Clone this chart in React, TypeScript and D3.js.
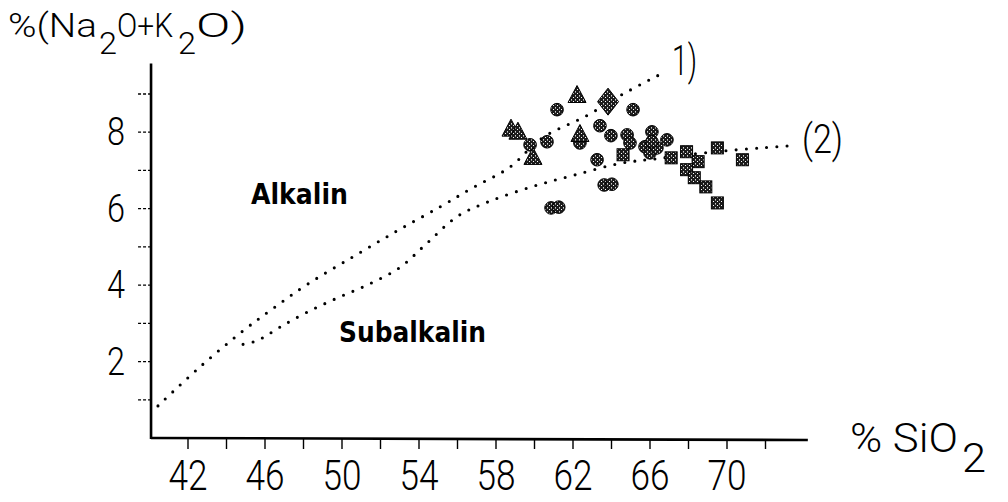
import React from "react";
import * as d3 from "d3";

// ---- data ----
const xTickValues = [42, 44, 46, 48, 50, 52, 54, 56, 58, 60, 62, 64, 66, 68, 70, 72];
const xLabelValues = [42, 46, 50, 54, 58, 62, 66, 70];
const yTickValues = [1, 2, 3, 4, 5, 6, 7, 8, 9];
const yLabelValues = [2, 4, 6, 8];

// boundary line 1 (upper)
const line1: [number, number][] = [
  [40.44, 0.84], [42.6, 1.85], [44.9, 2.82], [46.5, 3.42], [48.2, 4.02], [50.6, 4.75],
  [52.9, 5.43], [55.1, 6.05], [56.8, 6.55], [58.7, 7.08], [60.4, 7.85], [62.7, 8.43],
  [64.6, 9.0], [66.4, 9.48],
];
// boundary line 2 (lower)
const line2: [number, number][] = [
  [44.86, 2.45], [45.6, 2.55], [46.78, 2.9], [48.18, 3.29], [49.74, 3.66], [51.3, 4.0],
  [53.0, 4.46], [54.4, 5.09], [56.0, 5.8], [57.7, 6.2], [59.9, 6.58], [62.0, 6.87],
  [64.4, 7.18], [66.4, 7.31], [69.0, 7.47], [72.0, 7.6], [73.5, 7.65],
];

const triangles: [number, number][] = [
  [62.21, 9.0], [58.78, 8.12], [59.14, 8.04], [59.92, 7.38], [62.36, 7.98],
];
const diamonds: [number, number][] = [[63.82, 8.8]];
const circles: [number, number][] = [
  [61.17, 8.59], [65.12, 8.59], [59.77, 7.67], [60.65, 7.75], [62.36, 7.72],
  [63.4, 8.17], [63.97, 7.91], [64.81, 7.93], [63.25, 7.28],
  [63.62, 6.62], [64.02, 6.64], [60.86, 6.02], [61.26, 6.04],
  [66.1, 8.01], [66.88, 7.8], [64.96, 7.72], [65.74, 7.62], [66.0, 7.46],
  [66.36, 7.59], [66.1, 7.75],
];
const squares: [number, number][] = [
  [64.6, 7.41], [67.1, 7.33], [67.9, 7.49], [68.5, 7.23], [67.9, 7.02],
  [68.3, 6.81], [68.9, 6.57], [69.5, 6.15], [69.5, 7.59], [70.8, 7.28],
];

const W = 1008;
const H = 502;

export default function App() {
  const x = d3.scaleLinear().domain([42, 70]).range([188, 727]);
  const y = d3.scaleLinear().domain([0, 9]).range([438, 94]);

  const lineGen = d3
    .line<[number, number]>()
    .x((d) => x(d[0]))
    .y((d) => y(d[1]))
    .curve(d3.curveCatmullRom.alpha(0.5));

  const x0 = x(40.08);
  const x1 = x(74.2);
  const yTop = y(9.8);
  const y0 = y(0);

  const digitFont = "Roboto, 'Liberation Sans', 'DejaVu Sans', sans-serif";
  const markFill = "url(#stip)";

  const tri = (cx: number, cy: number) => {
    const w = 9, h = 8.5;
    return `M${cx},${cy - h}L${cx + w},${cy + h}L${cx - w},${cy + h}Z`;
  };
  const dia = (cx: number, cy: number) => {
    const w = 10.5, h = 13.5;
    return `M${cx},${cy - h}L${cx + w},${cy}L${cx},${cy + h}L${cx - w},${cy}Z`;
  };

  return (
    <svg
      width={W}
      height={H}
      style={{ position: "absolute", left: 0, top: 0, background: "#fff" }}
    >
      <defs>
        <pattern id="stip" patternUnits="userSpaceOnUse" width={4} height={4}>
          <rect width={4} height={4} fill="#1c1c1c" />
          <rect x={1} y={1} width={1} height={1} fill="#fff" />
          <rect x={3} y={3} width={1} height={1} fill="#ccc" />
          <rect x={3} y={0} width={1} height={1} fill="#888" />
        </pattern>
      </defs>
      <rect width={W} height={H} fill="#fff" />

      {/* axes */}
      <line x1={x0} y1={y0} x2={x1} y2={y0 + 2} stroke="#000" strokeWidth={2.6} />
      <line x1={x0} y1={yTop} x2={x0} y2={y0 + 1} stroke="#000" strokeWidth={2.6} />
      {xTickValues.map((v) => (
        <line key={"xt" + v} x1={x(v)} x2={x(v)} y1={y0 + 1} y2={y0 + 11} stroke="#000" strokeWidth={1.4} />
      ))}
      {yTickValues.map((v) => (
        <line key={"yt" + v} x1={x0 - 13} x2={x0} y1={y(v)} y2={y(v)} stroke="#000" strokeWidth={1.3} strokeDasharray="3 2" />
      ))}
      {xLabelValues.map((v) => (
        <text
          key={"xl" + v}
          x={x(v)}
          y={490}
          textAnchor="middle"
          fontFamily={digitFont}
          fontWeight={300}
          fontSize={42}
          textLength={39}
          lengthAdjust="spacingAndGlyphs"
        >
          {v}
        </text>
      ))}
      {yLabelValues.map((v) => (
        <text
          key={"yl" + v}
          x={116}
          y={y(v) + 13}
          textAnchor="middle"
          fontFamily={digitFont}
          fontWeight={300}
          fontSize={38}
          textLength={18}
          lengthAdjust="spacingAndGlyphs"
        >
          {v}
        </text>
      ))}

      {/* boundary lines */}
      <path d={lineGen(line1) || ""} fill="none" stroke="#000" strokeWidth={3.1} strokeLinecap="round" strokeDasharray="0 10.2" />
      <path d={lineGen(line2) || ""} fill="none" stroke="#000" strokeWidth={3.1} strokeLinecap="round" strokeDasharray="0 10.2" />

      {/* markers */}
      {circles.map((d, i) => (
        <circle key={"c" + i} cx={x(d[0])} cy={y(d[1])} r={6.3} fill={markFill} stroke="#000" strokeWidth={1} />
      ))}
      {squares.map((d, i) => (
        <rect key={"s" + i} x={x(d[0]) - 6} y={y(d[1]) - 6} width={12} height={12} fill={markFill} stroke="#000" strokeWidth={1} />
      ))}
      {triangles.map((d, i) => (
        <path key={"t" + i} d={tri(x(d[0]), y(d[1]))} fill={markFill} stroke="#000" strokeWidth={1} />
      ))}
      {diamonds.map((d, i) => (
        <path key={"d" + i} d={dia(x(d[0]), y(d[1]))} fill={markFill} stroke="#000" strokeWidth={1} />
      ))}

      {/* axis titles */}
      <g fontFamily={digitFont} fontWeight={300} fill="#000">
        <text x={8} y={37} fontSize={34} textLength={89} lengthAdjust="spacingAndGlyphs">%(Na</text>
        <text x={99} y={54} fontSize={31} textLength={18} lengthAdjust="spacingAndGlyphs">2</text>
        <text x={117} y={37} fontSize={34} textLength={56} lengthAdjust="spacingAndGlyphs">O+K</text>
        <text x={178} y={54} fontSize={31} textLength={18} lengthAdjust="spacingAndGlyphs">2</text>
        <text x={196} y={37} fontSize={34} textLength={51} lengthAdjust="spacingAndGlyphs">O)</text>

        <text x={850} y={452} fontSize={40} textLength={108} lengthAdjust="spacingAndGlyphs">% SiO</text>
        <text x={962} y={472} fontSize={40} textLength={24} lengthAdjust="spacingAndGlyphs">2</text>

        <text x={672} y={75} fontSize={42} textLength={25} lengthAdjust="spacingAndGlyphs">1)</text>
        <text x={802} y={153} fontSize={40} textLength={41} lengthAdjust="spacingAndGlyphs">(2)</text>
      </g>
      <g fontFamily="'DejaVu Sans', Verdana, sans-serif" fontWeight={700} fill="#000">
        <text x={251} y={204} fontSize={28} textLength={97} lengthAdjust="spacingAndGlyphs">Alkalin</text>
        <text x={339} y={342} fontSize={28} textLength={147} lengthAdjust="spacingAndGlyphs">Subalkalin</text>
      </g>
    </svg>
  );
}
